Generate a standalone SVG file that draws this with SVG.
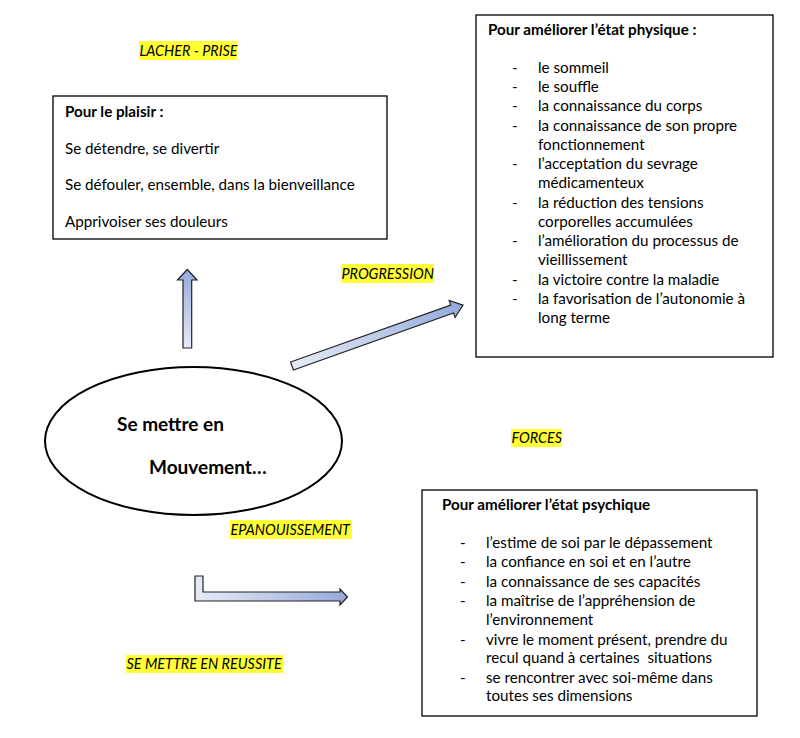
<svg xmlns="http://www.w3.org/2000/svg" width="800" height="738" viewBox="0 0 800 738">
<defs>
<linearGradient id="gUp" x1="0" y1="1" x2="0" y2="0"><stop offset="0" stop-color="#e6ebf6"/><stop offset="1" stop-color="#94aadb"/></linearGradient>
<linearGradient id="gRight" x1="0" y1="0" x2="1" y2="0"><stop offset="0" stop-color="#e6ebf6"/><stop offset="1" stop-color="#94aadb"/></linearGradient>
</defs>
<style>
text{font-family:Lato,"Liberation Sans",sans-serif;font-size:15.2px;fill:#000}
.b{font-weight:bold}
.lbl{font-style:italic;font-size:14.4px}
.hl{fill:#ffff33}
.box{fill:#fff;stroke:#000;stroke-width:1.3}
.arr{stroke:#222;stroke-width:1.2;stroke-linejoin:miter}
.big{font-size:19px;font-weight:bold}
</style>
<rect width="800" height="738" fill="#fff"/>

<g id="label-lacher">
<rect class="hl" x="139" y="41" width="98" height="19"/>
<text class="lbl" x="139.5" y="56">LACHER - PRISE</text>
</g>

<g id="node-plaisir">
<rect class="box" x="53" y="96" width="334" height="143"/>
<text class="b" x="65" y="117">Pour le plaisir :</text>
<text x="65" y="154">Se détendre, se divertir</text>
<text x="65" y="190">Se défouler, ensemble, dans la bienveillance</text>
<text x="65" y="227">Apprivoiser ses douleurs</text>
</g>

<g id="label-progression">
<rect class="hl" x="341" y="264" width="93" height="19"/>
<text class="lbl" x="341.5" y="279">PROGRESSION</text>
</g>

<g id="node-physique">
<rect class="box" x="476" y="15" width="297" height="342"/>
<text class="b" x="488" y="35">Pour améliorer l’état physique :</text>
<g>
<text x="512" y="73">-</text><text x="538" y="73">le sommeil</text>
<text x="512" y="92">-</text><text x="538" y="92">le souffle</text>
<text x="512" y="111">-</text><text x="538" y="111">la connaissance du corps</text>
<text x="512" y="131">-</text><text x="538" y="131">la connaissance de son propre</text>
<text x="538" y="150">fonctionnement</text>
<text x="512" y="169">-</text><text x="538" y="169">l’acceptation du sevrage</text>
<text x="538" y="188">médicamenteux</text>
<text x="512" y="208">-</text><text x="538" y="208">la réduction des tensions</text>
<text x="538" y="227">corporelles accumulées</text>
<text x="512" y="246">-</text><text x="538" y="246">l’amélioration du processus de</text>
<text x="538" y="265">vieillissement</text>
<text x="512" y="285">-</text><text x="538" y="285">la victoire contre la maladie</text>
<text x="512" y="304">-</text><text x="538" y="304">la favorisation de l’autonomie à</text>
<text x="538" y="323">long terme</text>
</g>
</g>

<g id="node-mouvement">
<ellipse cx="193.5" cy="441" rx="148.5" ry="74" fill="#fff" stroke="#000" stroke-width="2"/>
<text class="big" x="117" y="431">Se mettre en</text>
<text class="big" x="149" y="474">Mouvement…</text>
</g>

<g id="label-forces">
<rect class="hl" x="511" y="429" width="50" height="18"/>
<text class="lbl" x="511.5" y="443">FORCES</text>
</g>

<g id="label-epanouissement">
<rect class="hl" x="230" y="520" width="122" height="19"/>
<text class="lbl" x="230.5" y="535">EPANOUISSEMENT</text>
</g>

<g id="label-reussite">
<rect class="hl" x="126" y="655" width="157" height="18"/>
<text class="lbl" x="126.5" y="669">SE METTRE EN REUSSITE</text>
</g>

<g id="node-psychique">
<rect class="box" x="422" y="490" width="335" height="226" stroke="#555"/>
<text class="b" x="442" y="510">Pour améliorer l’état psychique</text>
<g>
<text x="460" y="548">-</text><text x="486" y="548">l’estime de soi par le dépassement</text>
<text x="460" y="567">-</text><text x="486" y="567">la confiance en soi et en l’autre</text>
<text x="460" y="587">-</text><text x="486" y="587">la connaissance de ses capacités</text>
<text x="460" y="606">-</text><text x="486" y="606">la maîtrise de l’appréhension de</text>
<text x="486" y="625">l’environnement</text>
<text x="460" y="645">-</text><text x="486" y="645">vivre le moment présent, prendre du</text>
<text x="486" y="663">recul quand à certaines&#160; situations</text>
<text x="460" y="683">-</text><text x="486" y="683">se rencontrer avec soi-même dans</text>
<text x="486" y="701">toutes ses dimensions</text>
</g>
</g>

<g id="connectors">
<path class="arr" fill="url(#gUp)" d="M183,348 L183,280 L177.5,280 L187.3,269.5 L197,280 L191.7,280 L191.7,348 Z"/>
<path class="arr" fill="url(#gRight)" transform="translate(292,366) rotate(-19.6)" d="M0,-4.2 L170,-4.2 L170,-9 L181.5,0 L170,9 L170,4.2 L0,4.2 Z"/>
<path class="arr" fill="url(#gRight)" d="M195,576 L203,576 L203,592 L340,592 L340,589 L347.5,597 L340,605 L340,601 L195,601 Z"/>
</g>
</svg>
